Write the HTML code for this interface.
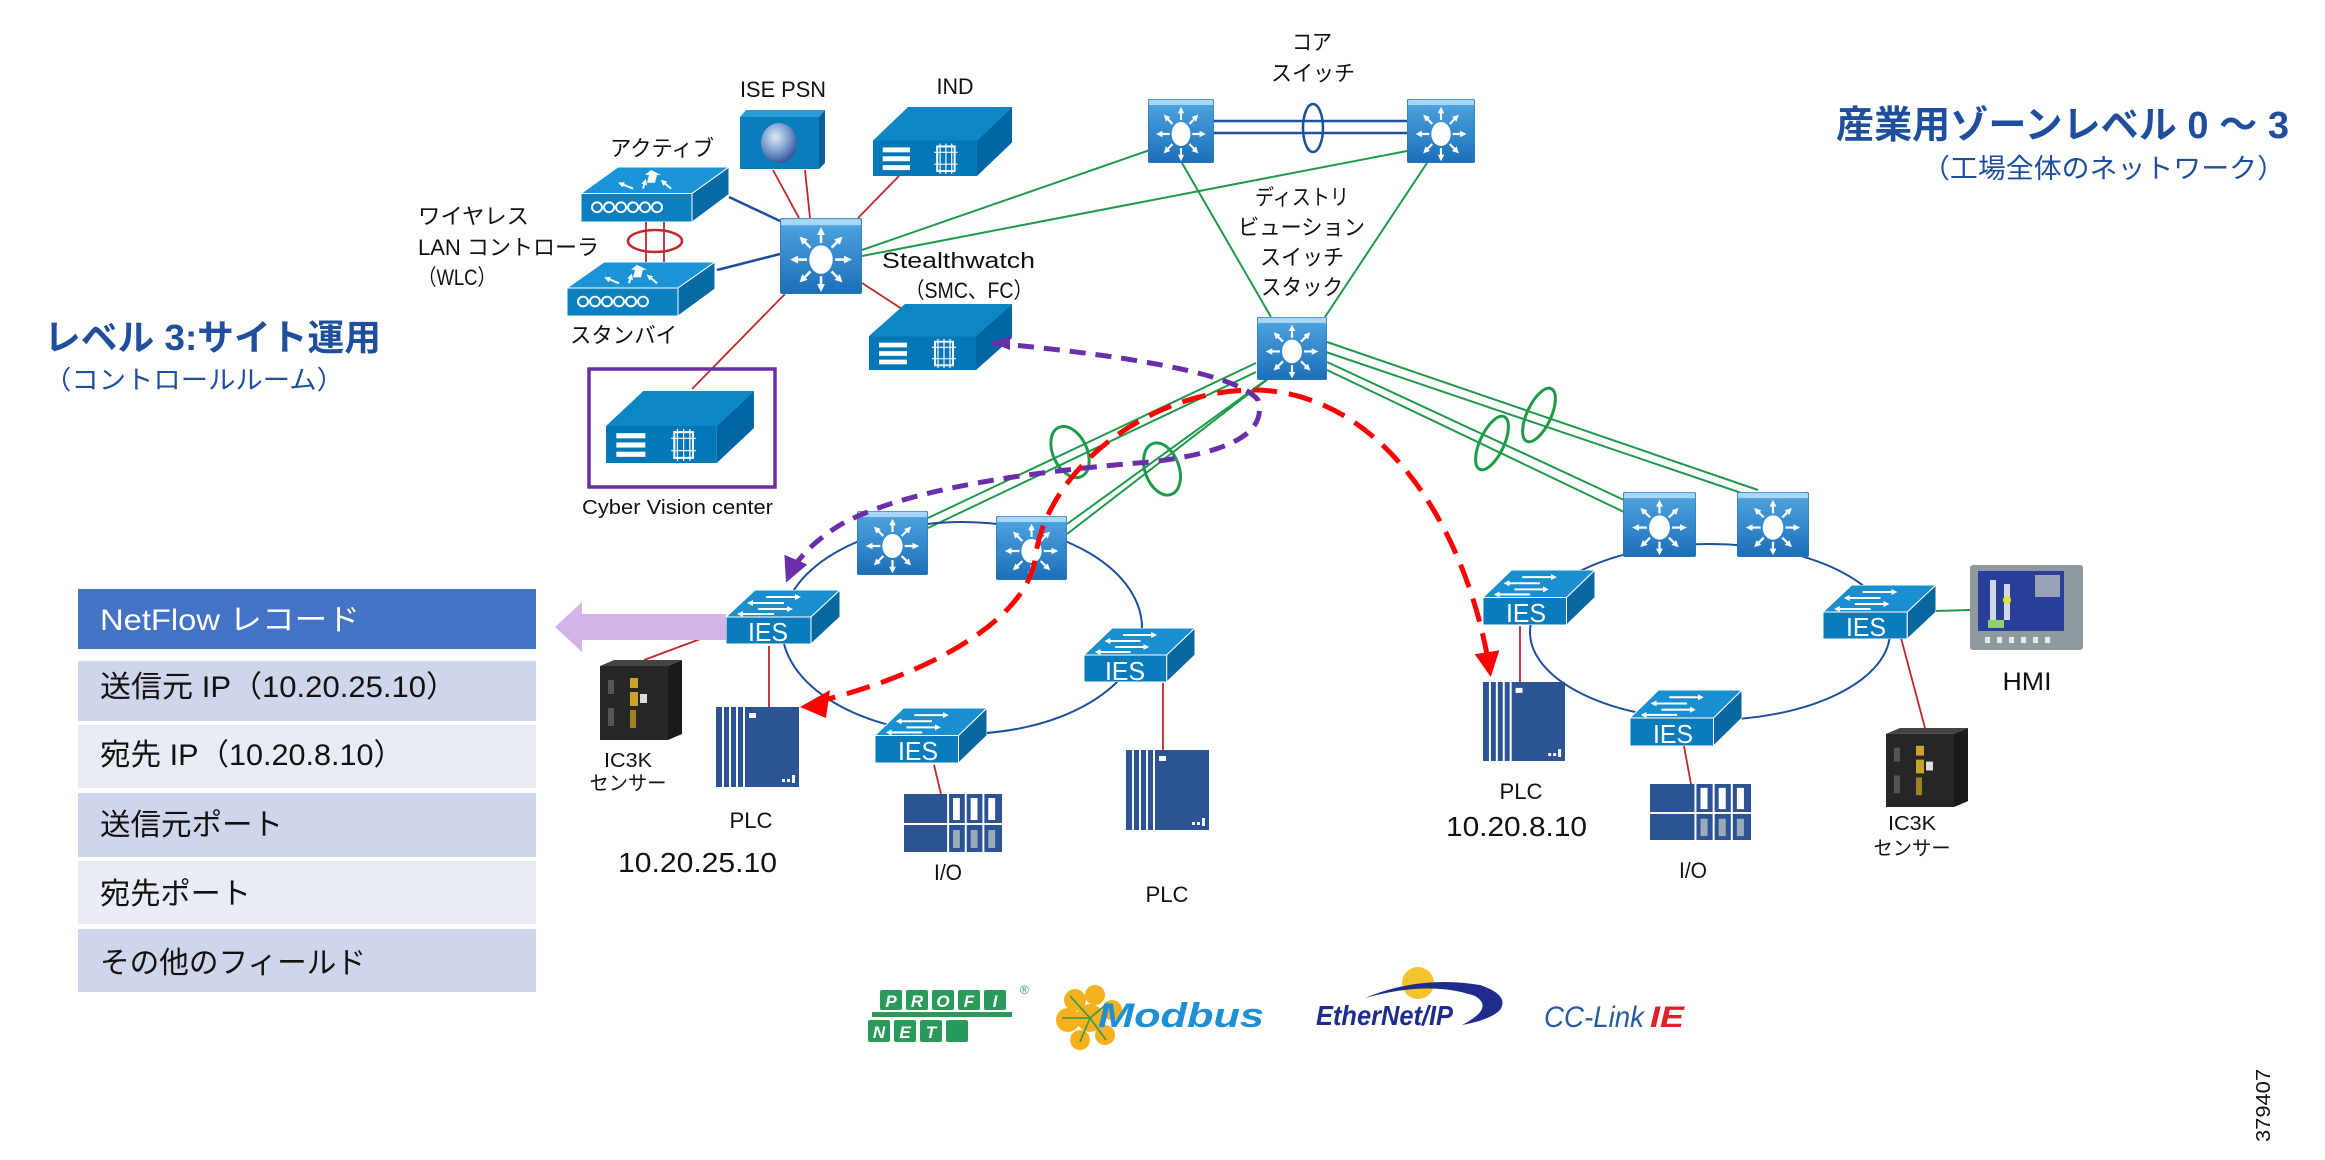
<!DOCTYPE html>
<html><head><meta charset="utf-8"><style>
html,body{margin:0;padding:0;background:#fff}
svg{display:block}
text{font-family:"Liberation Sans Narrow","Liberation Sans","Noto Sans CJK JP",sans-serif}
.l{font-size:22px;fill:#111}
.ies{font-size:26px;fill:#fff}
</style></head><body>
<svg width="2325" height="1160" viewBox="0 0 2325 1160" xmlns="http://www.w3.org/2000/svg">
<defs>
<linearGradient id="mg" x1="0" y1="0" x2="0" y2="1"><stop offset="0" stop-color="#7cc0ee"/><stop offset="0.12" stop-color="#4a9fdc"/><stop offset="1" stop-color="#1c6fb8"/></linearGradient>
<radialGradient id="glb" cx="0.4" cy="0.35" r="0.7"><stop offset="0" stop-color="#dce9f7"/><stop offset="0.6" stop-color="#6f93c8"/><stop offset="1" stop-color="#2d4f8f"/></radialGradient>
<marker id="wa" viewBox="0 0 10 10" refX="5" refY="5" markerWidth="3" markerHeight="3" orient="auto"><path d="M0,0L10,5L0,10z" fill="#fff"/></marker>
<marker id="ra" viewBox="0 0 10 10" refX="8" refY="5" markerWidth="5" markerHeight="5" orient="auto" markerUnits="strokeWidth"><path d="M0,0L10,5L0,10z" fill="#f00"/></marker>
<marker id="pa" viewBox="0 0 10 10" refX="8" refY="5" markerWidth="5" markerHeight="5" orient="auto" markerUnits="strokeWidth"><path d="M0,0L10,5L0,10z" fill="#6a2fa8"/></marker>
<symbol id="ml" viewBox="0 0 70 64" preserveAspectRatio="none">
<rect x="0" y="0" width="70" height="64" rx="3" fill="url(#mg)" stroke="#2c78b8" stroke-width="1"/>
<rect x="1" y="1" width="68" height="5" fill="#a9d6f5"/>
<ellipse cx="35" cy="35" rx="10" ry="12" fill="#fff"/>
<g stroke="#fff" stroke-width="2.2" fill="none" marker-end="url(#wa)">
<line x1="35" y1="21" x2="35" y2="11"/><line x1="35" y1="49" x2="35" y2="59"/>
<line x1="23" y1="35" x2="12" y2="35"/><line x1="47" y1="35" x2="58" y2="35"/>
<line x1="26" y1="25" x2="19" y2="18"/><line x1="44" y1="25" x2="51" y2="18"/>
<line x1="26" y1="45" x2="19" y2="52"/><line x1="44" y1="45" x2="51" y2="52"/>
</g></symbol>
<symbol id="iesb" viewBox="0 0 114 54" preserveAspectRatio="none">
<polygon points="0,27 85,27 114,0 29,0" fill="#1a8fcf" stroke="#fff" stroke-width="1"/>
<rect x="0" y="27" width="85" height="27" fill="#0a7cbc" stroke="#fff" stroke-width="1"/>
<polygon points="85,27 114,0 114,27 85,54" fill="#08679f" stroke="#fff" stroke-width="1"/>
<g stroke="#fff" stroke-width="2" marker-end="url(#wa)"><line x1="40" y1="7" x2="72" y2="7"/><line x1="58" y1="13" x2="24" y2="13"/><line x1="32" y1="19" x2="64" y2="19"/><line x1="48" y1="24" x2="14" y2="24"/></g>
</symbol>
<symbol id="srv" viewBox="0 0 143 70" preserveAspectRatio="none">
<polygon points="0,34 107,34 143,0 36,0" fill="#0c87c6"/>
<rect x="0" y="34" width="107" height="36" fill="#0077b6"/>
<polygon points="107,34 143,0 143,36 107,70" fill="#0066a3"/>
<rect x="10" y="41" width="28" height="5" fill="#fff"/><rect x="10" y="50" width="28" height="5" fill="#fff"/><rect x="10" y="59" width="28" height="5" fill="#fff"/>
<rect x="66" y="40" width="18" height="25" fill="none" stroke="#fff" stroke-width="2"/>
<g stroke="#fff" stroke-width="1.2"><line x1="69" y1="37" x2="69" y2="68"/><line x1="75" y1="37" x2="75" y2="68"/><line x1="81" y1="37" x2="81" y2="68"/><line x1="63" y1="46" x2="87" y2="46"/><line x1="63" y1="58" x2="87" y2="58"/></g>
</symbol>
<symbol id="wlc" viewBox="0 0 148 56" preserveAspectRatio="none">
<polygon points="0,27 111,27 148,0 37,0" fill="#1a94d6" stroke="#fff" stroke-width="1"/>
<rect x="0" y="27" width="111" height="29" fill="#0a80c0" stroke="#fff" stroke-width="1"/>
<polygon points="111,27 148,0 148,28 111,56" fill="#086aa3" stroke="#fff" stroke-width="1"/>
<g fill="none" stroke="#fff" stroke-width="2"><circle cx="16" cy="41" r="5"/><circle cx="28" cy="41" r="5"/><circle cx="40" cy="41" r="5"/><circle cx="52" cy="41" r="5"/><circle cx="64" cy="41" r="5"/><circle cx="76" cy="41" r="5"/></g>
<polygon points="70,3 80,8 76,8 74,16 66,16 68,8 64,8" fill="#fff"/>
<g stroke="#fff" stroke-width="2" marker-end="url(#wa)"><line x1="52" y1="22" x2="40" y2="17"/><line x1="62" y1="22" x2="64" y2="15"/><line x1="90" y1="22" x2="82" y2="15"/></g>
</symbol>
<symbol id="plc" viewBox="0 0 83 80" preserveAspectRatio="none">
<rect x="0" y="0" width="83" height="80" fill="#2c5393"/>
<g fill="#fff"><rect x="6" y="0" width="2" height="80"/><rect x="13" y="0" width="2" height="80"/><rect x="20" y="0" width="2" height="80"/><rect x="27" y="0" width="2" height="80"/><rect x="33" y="6" width="7" height="5"/><rect x="66" y="72" width="3" height="3"/><rect x="71" y="72" width="3" height="3"/><rect x="76" y="68" width="3" height="8"/></g>
</symbol>
<symbol id="io" viewBox="0 0 100 58" preserveAspectRatio="none">
<rect x="0" y="0" width="100" height="58" fill="#2c5393"/>
<g fill="#fff"><rect x="0" y="29" width="100" height="2"/><rect x="44" y="0" width="2" height="58"/><rect x="62" y="0" width="2" height="58"/><rect x="80" y="0" width="2" height="58"/>
<rect x="50" y="4" width="7" height="22"/><rect x="68" y="4" width="7" height="22"/><rect x="86" y="4" width="7" height="22"/></g>
<g fill="#9ab" ><rect x="50" y="36" width="7" height="18"/><rect x="68" y="36" width="7" height="18"/><rect x="86" y="36" width="7" height="18"/></g>
</symbol>
<symbol id="ic3k" viewBox="0 0 82 80" preserveAspectRatio="none">
<polygon points="0,6 68,6 82,0 82,74 68,80 0,80" fill="#1a1a1a"/>
<rect x="0" y="6" width="68" height="74" fill="#262626"/>
<polygon points="0,6 14,0 82,0 68,6" fill="#444"/>
<rect x="30" y="18" width="8" height="10" fill="#c9a227"/><rect x="30" y="32" width="8" height="14" fill="#c9a227"/><rect x="40" y="34" width="7" height="9" fill="#ddd"/>
<rect x="30" y="50" width="6" height="18" fill="#a08020"/><rect x="8" y="20" width="6" height="14" fill="#555"/><rect x="8" y="48" width="6" height="18" fill="#555"/>
</symbol>
</defs>

<!-- titles -->
<text x="44" y="350" font-size="36" font-weight="bold" fill="#1f4e9c" textLength="337" lengthAdjust="spacingAndGlyphs">レベル 3:サイト運用</text>
<text x="44" y="389" font-size="26" fill="#1f4e9c" textLength="300" lengthAdjust="spacingAndGlyphs">（コントロールルーム）</text>
<text x="1836" y="138" font-size="38" font-weight="bold" fill="#1f4e9c" textLength="453" lengthAdjust="spacingAndGlyphs">産業用ゾーンレベル 0 ～ 3</text>
<text x="1922" y="178" font-size="27" fill="#1f4e9c" textLength="363" lengthAdjust="spacingAndGlyphs">（工場全体のネットワーク）</text>

<!-- green links -->
<g stroke="#1e9a4a" stroke-width="2" fill="none">
<line x1="862" y1="250" x2="1150" y2="150"/><line x1="862" y1="256" x2="1407" y2="151"/>
<line x1="1182" y1="163" x2="1271" y2="317"/><line x1="1427" y1="163" x2="1325" y2="317"/>
<line x1="1256" y1="363" x2="928" y2="518"/><line x1="1256" y1="372" x2="928" y2="528"/>
<line x1="1277" y1="372" x2="1067" y2="534"/><line x1="1266" y1="380" x2="1067" y2="524"/>
<line x1="1327" y1="342" x2="1758" y2="490"/><line x1="1320" y1="350" x2="1771" y2="503"/>
<line x1="1327" y1="362" x2="1624" y2="500"/><line x1="1327" y1="370" x2="1624" y2="512"/>
<line x1="1936" y1="611" x2="1970" y2="610"/>
<ellipse cx="0" cy="0" rx="17" ry="27" transform="translate(1070,452) rotate(-25)" stroke-width="3"/>
<ellipse cx="0" cy="0" rx="17" ry="27" transform="translate(1162,469) rotate(-20)" stroke-width="3"/>
<ellipse cx="0" cy="0" rx="12" ry="29" transform="translate(1539,415) rotate(25)" stroke-width="3"/>
<ellipse cx="0" cy="0" rx="12" ry="29" transform="translate(1492,443) rotate(25)" stroke-width="3"/>
</g>

<!-- blue links -->
<g stroke="#1d4f9c" stroke-width="2.5" fill="none">
<line x1="1212" y1="121" x2="1407" y2="121"/><line x1="1212" y1="133" x2="1407" y2="133"/>
<ellipse cx="1313" cy="128" rx="10" ry="24"/>
<line x1="729" y1="197" x2="780" y2="221"/><line x1="717" y1="270" x2="780" y2="254"/>
<ellipse cx="962" cy="628" rx="180" ry="106" stroke-width="2"/>
<ellipse cx="1710" cy="632" rx="180" ry="88" stroke-width="2"/>
</g>

<!-- red links -->
<g stroke="#c0262d" stroke-width="1.8" fill="none">
<line x1="773" y1="170" x2="799" y2="218"/><line x1="805" y1="170" x2="810" y2="218"/>
<line x1="899" y1="176" x2="858" y2="218"/><line x1="862" y1="283" x2="902" y2="309"/>
<line x1="785" y1="294" x2="692" y2="389"/>
<line x1="646" y1="222" x2="646" y2="262"/><line x1="664" y1="222" x2="664" y2="262"/>
<line x1="769" y1="646" x2="769" y2="707"/><line x1="703" y1="638" x2="644" y2="660"/>
<line x1="934" y1="765" x2="941" y2="794"/><line x1="1163" y1="683" x2="1163" y2="750"/>
<line x1="1520" y1="626" x2="1520" y2="682"/><line x1="1684" y1="746" x2="1691" y2="784"/>
<line x1="1901" y1="638" x2="1925" y2="728"/>
</g>
<ellipse cx="655" cy="241" rx="27" ry="11" fill="none" stroke="#c0262d" stroke-width="2.5"/>

<!-- devices -->
<!-- ISE PSN -->
<polygon points="740,117 746,110 825,110 819,117" fill="#2a9ad8"/>
<polygon points="819,117 825,110 825,163 819,169" fill="#0b5f97"/>
<rect x="740" y="117" width="79" height="52" fill="#0b7cbc"/>
<ellipse cx="779" cy="143" rx="18" ry="20" fill="url(#glb)"/>
<use href="#srv" x="873" y="107" width="139" height="69"/>
<use href="#wlc" x="581" y="167" width="148" height="55"/>
<use href="#wlc" x="567" y="262" width="148" height="54"/>
<use href="#ml" x="780" y="218" width="82" height="76"/>
<use href="#srv" x="869" y="304" width="143" height="66"/>
<rect x="589" y="369" width="186" height="118" fill="none" stroke="#6a2fa8" stroke-width="3.5"/>
<use href="#srv" x="606" y="391" width="148" height="72"/>
<use href="#ml" x="1148" y="99" width="66" height="64"/>
<use href="#ml" x="1407" y="99" width="68" height="64"/>
<use href="#ml" x="1257" y="317" width="70" height="63"/>
<use href="#ml" x="857" y="511" width="71" height="64"/>
<use href="#ml" x="996" y="516" width="71" height="64"/>
<use href="#ml" x="1623" y="492" width="73" height="65"/>
<use href="#ml" x="1737" y="492" width="72" height="65"/>

<use href="#iesb" x="726" y="590" width="114" height="54"/>
<use href="#iesb" x="875" y="708" width="112" height="55"/>
<use href="#iesb" x="1084" y="628" width="111" height="54"/>
<use href="#iesb" x="1483" y="570" width="112" height="55"/>
<use href="#iesb" x="1630" y="690" width="112" height="56"/>
<use href="#iesb" x="1823" y="585" width="113" height="54"/>
<g class="ies" text-anchor="middle">
<text x="768" y="641" textLength="40" lengthAdjust="spacingAndGlyphs">IES</text>
<text x="918" y="760" textLength="40" lengthAdjust="spacingAndGlyphs">IES</text>
<text x="1125" y="680" textLength="40" lengthAdjust="spacingAndGlyphs">IES</text>
<text x="1526" y="622" textLength="40" lengthAdjust="spacingAndGlyphs">IES</text>
<text x="1673" y="743" textLength="40" lengthAdjust="spacingAndGlyphs">IES</text>
<text x="1866" y="636" textLength="40" lengthAdjust="spacingAndGlyphs">IES</text>
</g>

<use href="#plc" x="716" y="707" width="83" height="80"/>
<use href="#plc" x="1126" y="750" width="83" height="80"/>
<use href="#plc" x="1483" y="682" width="82" height="79"/>
<use href="#io" x="904" y="794" width="98" height="58"/>
<use href="#io" x="1650" y="784" width="101" height="56"/>
<use href="#ic3k" x="600" y="660" width="82" height="80"/>
<use href="#ic3k" x="1886" y="728" width="82" height="79"/>
<!-- HMI -->
<rect x="1970" y="565" width="113" height="85" rx="3" fill="#8f9a9e"/>
<rect x="1978" y="571" width="86" height="60" fill="#2a3f9a"/>
<rect x="2035" y="575" width="25" height="22" fill="#9aa3b5"/>
<rect x="1990" y="580" width="6" height="40" fill="#cfd8e8"/><rect x="2004" y="584" width="6" height="36" fill="#cfd8e8"/><circle cx="2007" cy="600" r="4" fill="#e5e040"/>
<rect x="1988" y="620" width="16" height="8" fill="#8fd06a"/>
<g fill="#e8e8e8"><rect x="1985" y="637" width="5" height="6"/><rect x="1997" y="637" width="5" height="6"/><rect x="2009" y="637" width="5" height="6"/><rect x="2021" y="637" width="5" height="6"/><rect x="2033" y="637" width="5" height="6"/><rect x="2045" y="637" width="5" height="6"/></g>

<!-- lavender arrow -->
<polygon points="555,627 582,602 582,614 726,614 726,640 582,640 582,652" fill="#d4b4e8"/>

<!-- dashed flows -->
<path d="M992,343 Q1230,365 1258,400 Q1272,448 1150,462 Q920,480 840,525 Q800,550 788,578" fill="none" stroke="#6a2fa8" stroke-width="5" stroke-dasharray="16,10" marker-end="url(#pa)"/>
<path d="M992,343 L1010,336 L1010,350 Z" fill="#6a2fa8"/>
<path d="M812,703 C930,675 1025,620 1035,560 C1045,470 1150,388 1258,390 C1390,395 1470,540 1490,672" fill="none" stroke="#f00" stroke-width="5" stroke-dasharray="24,12" marker-end="url(#ra)"/>
<polygon points="800,707 830,690 826,718" fill="#f00"/>

<!-- labels -->
<g class="l">
<text x="783" y="97" text-anchor="middle" textLength="86" lengthAdjust="spacingAndGlyphs">ISE PSN</text>
<text x="955" y="94" text-anchor="middle" textLength="37" lengthAdjust="spacingAndGlyphs">IND</text>
<text x="610" y="156" textLength="104" lengthAdjust="spacingAndGlyphs">アクティブ</text>
<text x="418" y="224" textLength="111" lengthAdjust="spacingAndGlyphs">ワイヤレス</text>
<text x="418" y="255" textLength="181" lengthAdjust="spacingAndGlyphs">LAN コントローラ</text>
<text x="418" y="285" textLength="78" lengthAdjust="spacingAndGlyphs">（WLC）</text>
<text x="570" y="343" textLength="107" lengthAdjust="spacingAndGlyphs">スタンバイ</text>
<text x="882" y="268" textLength="153" lengthAdjust="spacingAndGlyphs">Stealthwatch</text>
<text x="905" y="298" textLength="128" lengthAdjust="spacingAndGlyphs">（SMC、FC）</text>
<text x="582" y="514" font-size="20" textLength="191" lengthAdjust="spacingAndGlyphs">Cyber Vision center</text>
<text x="1312" y="50" text-anchor="middle" textLength="40" lengthAdjust="spacingAndGlyphs">コア</text>
<text x="1313" y="81" text-anchor="middle" textLength="84" lengthAdjust="spacingAndGlyphs">スイッチ</text>
<text x="1255" y="205" textLength="94" lengthAdjust="spacingAndGlyphs">ディストリ</text>
<text x="1238" y="235" textLength="127" lengthAdjust="spacingAndGlyphs">ビューション</text>
<text x="1260" y="265" textLength="84" lengthAdjust="spacingAndGlyphs">スイッチ</text>
<text x="1261" y="295" textLength="82" lengthAdjust="spacingAndGlyphs">スタック</text>
<text x="628" y="767" text-anchor="middle" font-size="20" textLength="48" lengthAdjust="spacingAndGlyphs">IC3K</text>
<text x="628" y="790" text-anchor="middle" font-size="20" textLength="77" lengthAdjust="spacingAndGlyphs">センサー</text>
<text x="751" y="828" text-anchor="middle" textLength="43" lengthAdjust="spacingAndGlyphs">PLC</text>
<text x="618" y="872" font-size="28" textLength="159" lengthAdjust="spacingAndGlyphs">10.20.25.10</text>
<text x="948" y="880" text-anchor="middle" textLength="28" lengthAdjust="spacingAndGlyphs">I/O</text>
<text x="1167" y="902" text-anchor="middle" textLength="43" lengthAdjust="spacingAndGlyphs">PLC</text>
<text x="1521" y="799" text-anchor="middle" textLength="43" lengthAdjust="spacingAndGlyphs">PLC</text>
<text x="1446" y="836" font-size="28" textLength="141" lengthAdjust="spacingAndGlyphs">10.20.8.10</text>
<text x="1693" y="878" text-anchor="middle" textLength="28" lengthAdjust="spacingAndGlyphs">I/O</text>
<text x="1912" y="830" text-anchor="middle" font-size="20" textLength="48" lengthAdjust="spacingAndGlyphs">IC3K</text>
<text x="1912" y="855" text-anchor="middle" font-size="20" textLength="77" lengthAdjust="spacingAndGlyphs">センサー</text>
<text x="2027" y="690" text-anchor="middle" font-size="25" textLength="49" lengthAdjust="spacingAndGlyphs">HMI</text>
</g>

<!-- NetFlow table -->
<rect x="78" y="589" width="458" height="60" fill="#4472c4"/>
<rect x="78" y="661" width="458" height="60" fill="#cfd5ea"/>
<rect x="78" y="725" width="458" height="63" fill="#e9ebf5"/>
<rect x="78" y="793" width="458" height="64" fill="#cfd5ea"/>
<rect x="78" y="861" width="458" height="63" fill="#e9ebf5"/>
<rect x="78" y="929" width="458" height="63" fill="#cfd5ea"/>
<g font-size="30" fill="#111">
<text x="100" y="630" fill="#fff" textLength="260" lengthAdjust="spacingAndGlyphs">NetFlow レコード</text>
<text x="100" y="697" textLength="357" lengthAdjust="spacingAndGlyphs">送信元 IP（10.20.25.10）</text>
<text x="100" y="765" textLength="304" lengthAdjust="spacingAndGlyphs">宛先 IP（10.20.8.10）</text>
<text x="100" y="835" textLength="183" lengthAdjust="spacingAndGlyphs">送信元ポート</text>
<text x="100" y="904" textLength="151" lengthAdjust="spacingAndGlyphs">宛先ポート</text>
<text x="100" y="973" textLength="266" lengthAdjust="spacingAndGlyphs">その他のフィールド</text>
</g>

<!-- logos -->
<g fill="#2a9a5a">
<rect x="872" y="1012" width="140" height="5"/>
<rect x="880" y="990" width="22" height="20" rx="2"/><rect x="906" y="990" width="22" height="20" rx="2"/><rect x="932" y="990" width="22" height="20" rx="2"/><rect x="958" y="990" width="22" height="20" rx="2"/><rect x="984" y="990" width="22" height="20" rx="2"/>
<rect x="868" y="1020" width="22" height="22" rx="2"/><rect x="894" y="1020" width="22" height="22" rx="2"/><rect x="920" y="1020" width="22" height="22" rx="2"/><rect x="946" y="1020" width="22" height="22" rx="2"/>
</g>
<g font-size="17" font-weight="bold" fill="#fff" font-style="italic" text-anchor="middle" font-family="Liberation Sans,sans-serif">
<text x="891" y="1007">P</text><text x="917" y="1007">R</text><text x="943" y="1007">O</text><text x="969" y="1007">F</text><text x="995" y="1007">I</text>
<text x="879" y="1038">N</text><text x="905" y="1038">E</text><text x="931" y="1038">T</text>
</g>
<text x="1020" y="994" font-size="12" fill="#2a9a5a" font-family="Liberation Sans,sans-serif">®</text>
<g fill="#f5b21e"><circle cx="1075" cy="1000" r="11"/><circle cx="1095" cy="995" r="10"/><circle cx="1068" cy="1020" r="12"/><circle cx="1090" cy="1018" r="14"/><circle cx="1112" cy="1010" r="10"/><circle cx="1080" cy="1040" r="10"/><circle cx="1105" cy="1035" r="10"/></g>
<g stroke="#2a9a4a" stroke-width="1.5"><line x1="1090" y1="1018" x2="1070" y2="996"/><line x1="1090" y1="1018" x2="1062" y2="1018"/><line x1="1090" y1="1018" x2="1108" y2="1003"/><line x1="1090" y1="1018" x2="1080" y2="1042"/><line x1="1090" y1="1018" x2="1106" y2="1040"/></g>
<text x="1098" y="1027" font-size="34" font-weight="bold" font-style="italic" fill="#1e8fd2" font-family="Liberation Sans,sans-serif" textLength="166" lengthAdjust="spacingAndGlyphs">Modbus</text>
<circle cx="1418" cy="983" r="16" fill="#f3c430"/>
<path d="M1365,998 Q1420,975 1480,985 Q1510,995 1500,1010 Q1490,1020 1462,1025 Q1495,1008 1475,996 Q1430,980 1365,998 Z" fill="#1e2d8c"/>
<text x="1316" y="1025" font-size="28" font-weight="bold" font-style="italic" fill="#1e2d8c" font-family="Liberation Sans,sans-serif" textLength="137" lengthAdjust="spacingAndGlyphs">EtherNet/IP</text>
<text x="1544" y="1027" font-size="30" font-style="italic" fill="#2a5aa0" font-family="Liberation Sans Narrow,Liberation Sans,sans-serif" textLength="100" lengthAdjust="spacingAndGlyphs">CC-Link</text>
<text x="1650" y="1027" font-size="30" font-weight="bold" font-style="italic" fill="#e0202a" font-family="Liberation Sans,sans-serif" textLength="34" lengthAdjust="spacingAndGlyphs">IE</text>

<text transform="translate(2270,1142) rotate(-90)" font-size="20" fill="#111" font-family="Liberation Sans,sans-serif" textLength="73" lengthAdjust="spacingAndGlyphs">379407</text>
</svg>
</body></html>
